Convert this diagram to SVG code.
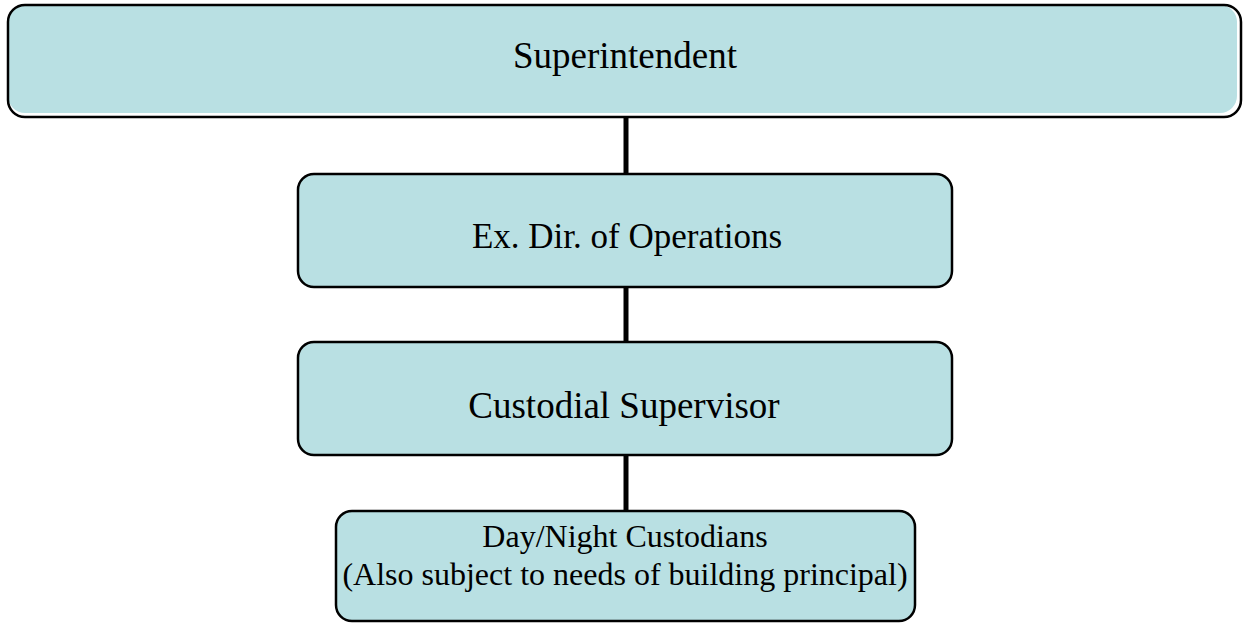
<svg xmlns="http://www.w3.org/2000/svg" width="1243" height="623" viewBox="0 0 1243 623">
<style>
.fill{fill:#B9E0E3;stroke:none}
.box{fill:#B9E0E3;stroke:#000;stroke-width:2.5}
.edge{fill:none;stroke:#000;stroke-width:2.5}
.lbl{font-family:"Liberation Serif","Times New Roman",serif;fill:#000;text-anchor:middle}
.conn{stroke:#000;stroke-width:5;fill:none}
</style>
<rect width="1243" height="623" fill="#fff"/>
<g id="connectors">
<line class="conn" x1="626" y1="117" x2="626" y2="174"/>
<line class="conn" x1="626" y1="287" x2="626" y2="342"/>
<line class="conn" x1="626" y1="455" x2="626" y2="511"/>
</g>
<g id="superintendent">
<rect class="fill" x="8" y="5" width="1229" height="108" rx="17"/>
<rect class="edge" x="8" y="5" width="1233" height="112" rx="17"/>
<text class="lbl" x="625" y="68" font-size="37">Superintendent</text>
</g>
<g id="exdir">
<rect class="box" x="298" y="174" width="654" height="113" rx="16"/>
<text class="lbl" x="627" y="248" font-size="35">Ex. Dir. of Operations</text>
</g>
<g id="custodial-supervisor">
<rect class="box" x="298" y="342" width="654" height="113" rx="16"/>
<text class="lbl" x="624" y="418" font-size="37">Custodial Supervisor</text>
</g>
<g id="custodians">
<rect class="box" x="336" y="511" width="579" height="110" rx="16"/>
<text class="lbl" x="625" y="547" font-size="32">Day/Night Custodians</text>
<text class="lbl" x="625" y="585" font-size="32">(Also subject to needs of building principal)</text>
</g>
</svg>
